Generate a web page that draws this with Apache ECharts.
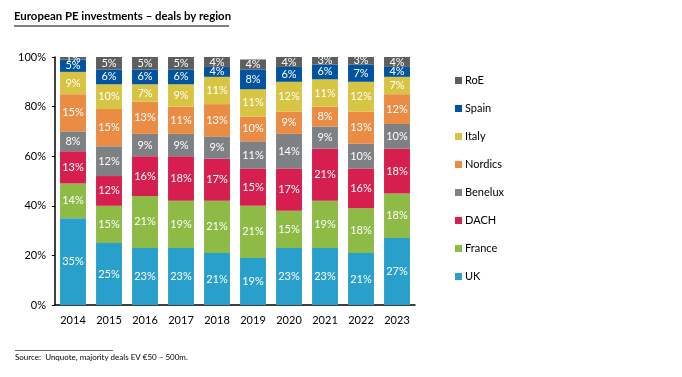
<!DOCTYPE html>
<html>
<head>
<meta charset="utf-8">
<script src="https://cdn.jsdelivr.net/npm/echarts@6/dist/echarts.min.js"></script>
<style>
  html, body { margin: 0; padding: 0; background: #fff; }
  #chart { width: 682px; height: 377px; }
</style>
</head>
<body>
<div id="chart"></div>
<script>
// 年份
var years = ['2014', '2015', '2016', '2017', '2018', '2019', '2020', '2021', '2022', '2023'];
// 各地区占比 (%)
var uk      = [35, 25, 23, 23, 21, 19, 23, 23, 21, 27];
var france  = [14, 15, 21, 19, 21, 21, 15, 19, 18, 18];
var dach    = [13, 12, 16, 18, 17, 15, 17, 21, 16, 18];
var benelux = [8, 12, 9, 9, 9, 11, 14, 9, 10, 10];
var nordics = [15, 15, 13, 11, 13, 10, 9, 8, 13, 12];
var italy   = [9, 10, 7, 9, 11, 11, 12, 11, 12, 7];
var spain   = [5, 6, 6, 6, 4, 8, 6, 6, 7, 4];
var roe     = [1, 5, 5, 5, 4, 4, 4, 3, 3, 4];
var yTicks  = [0, 20, 40, 60, 80, 100];

var regions = [
	{name: 'UK', data: uk, color: '#29A0CB'},
	{name: 'France', data: france, color: '#8DBB45'},
	{name: 'DACH', data: dach, color: '#D61F4E'},
	{name: 'Benelux', data: benelux, color: '#7E8184'},
	{name: 'Nordics', data: nordics, color: '#EA8C43'},
	{name: 'Italy', data: italy, color: '#D8C443'},
	{name: 'Spain', data: spain, color: '#00549F'},
	{name: 'RoE', data: roe, color: '#5E5E5E'}
];

var font = 'Lato, "Open Sans", sans-serif';

var series = [];
for (var i = 0; i < regions.length; i++) {
	series.push({
		name: regions[i].name,
		type: 'bar',
		stack: 'total',
		data: regions[i].data,
		barCategoryGap: '28%',
		itemStyle: {color: regions[i].color},
		label: {
			show: true,
			position: 'inside',
			formatter: '{c}%',
			color: '#fff',
			fontSize: 11,
			fontFamily: font
		},
		emphasis: {disabled: true},
		animation: false
	});
}

var legendNames = [];
for (var j = regions.length - 1; j >= 0; j--) {
	legendNames.push(regions[j].name);
}

var chart = echarts.init(document.getElementById('chart'));
var option = {
	backgroundColor: '#fff',
	animation: false,
	grid: {left: 55, right: 267, top: 57, bottom: 72},
	legend: {
		orient: 'vertical',
		left: 450,
		top: 70,
		data: legendNames,
		icon: 'rect',
		itemWidth: 7,
		itemHeight: 7,
		itemGap: 17,
		textStyle: {fontSize: 11, color: '#000', fontFamily: font, padding: [0, 0, 0, -2]}
	},
	xAxis: {
		type: 'category',
		data: years,
		axisLine: {lineStyle: {color: '#000', width: 1.5}},
		axisTick: {show: false},
		axisLabel: {color: '#000', fontSize: 11, fontFamily: font, margin: 10}
	},
	yAxis: {
		type: 'value',
		min: yTicks[0],
		max: yTicks[yTicks.length - 1],
		interval: 20,
		axisLine: {show: true, lineStyle: {color: '#000', width: 1.5}},
		axisTick: {show: true, length: 3, lineStyle: {color: '#000'}},
		splitLine: {show: false},
		axisLabel: {color: '#000', fontSize: 11, fontFamily: font, margin: 9, formatter: '{value}%'}
	},
	graphic: [
		{
			type: 'text',
			left: 14,
			top: 11,
			style: {text: 'European PE investments – deals by region', font: 'bold 11.4px ' + font, fill: '#000'}
		},
		{
			type: 'line',
			shape: {x1: 14, y1: 26, x2: 229, y2: 26},
			style: {stroke: '#000', lineWidth: 1}
		},
		{
			type: 'line',
			shape: {x1: 15, y1: 350.5, x2: 113, y2: 350.5},
			style: {stroke: '#000', lineWidth: 0.6}
		},
		{
			type: 'text',
			left: 15,
			top: 353,
			style: {text: 'Source:  Unquote, majority deals EV €50 – 500m.', font: '8px ' + font, fill: '#000'}
		}
	],
	series: series
};
chart.setOption(option);
</script>
</body>
</html>
